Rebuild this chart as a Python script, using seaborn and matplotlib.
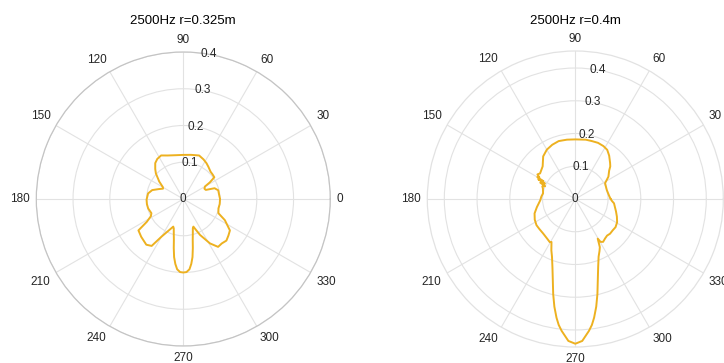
import numpy as np
import matplotlib
matplotlib.use("Agg")
import matplotlib.pyplot as plt
import seaborn as sns

# Directivity at 2500 Hz, measured at two radii (angle in degrees, magnitude)
near_theta = [0, 8, 14, 19, 22, 26, 30, 32, 35, 40, 45, 52, 57, 63, 70, 80, 90,
              100, 110, 117, 123, 128, 133, 137, 144, 150, 153, 158, 164, 171,
              181, 188, 195, 204, 208, 212, 215, 222, 231, 236, 240, 245, 250,
              252, 255, 257, 259, 261, 263, 265, 267.5, 270, 272.5, 275, 277,
              279, 281, 283, 285, 288, 290, 295, 301, 306, 311, 316, 321, 326,
              333, 338, 345, 352, 360]
near_r = [0.100, 0.098, 0.098, 0.090, 0.066, 0.064, 0.068, 0.085, 0.103, 0.104,
          0.105, 0.111, 0.116, 0.121, 0.126, 0.122, 0.120, 0.121, 0.126, 0.133,
          0.130, 0.124, 0.112, 0.102, 0.081, 0.064, 0.062, 0.072, 0.088, 0.097,
          0.100, 0.100, 0.099, 0.095, 0.100, 0.117, 0.149, 0.154, 0.160, 0.154,
          0.118, 0.095, 0.080, 0.084, 0.100, 0.114, 0.136, 0.160, 0.178, 0.192,
          0.199, 0.200, 0.199, 0.192, 0.178, 0.160, 0.136, 0.114, 0.100, 0.084,
          0.080, 0.108, 0.141, 0.161, 0.160, 0.163, 0.158, 0.153, 0.127, 0.103,
          0.099, 0.100, 0.100]

far_theta = [0, 5, 16, 28, 34, 40, 43, 46, 52, 57, 62, 68, 74, 80, 90, 98, 106,
             113, 120, 127, 135, 140, 144, 147, 149, 150, 151, 152, 153, 155,
             157, 159, 162, 170, 176, 182, 188, 192, 199.5, 207, 214, 220, 227,
             234, 239.4, 241, 245, 248, 251.5, 254, 256.9, 259, 261, 262.5,
             264.1, 267.2, 270, 272.8, 275.9, 277.5, 279, 281, 283.1, 286,
             288.5, 292, 295, 297, 299.5, 300.5, 303, 307, 311, 315, 320, 325,
             331, 337, 343, 348, 353.6, 357, 360]
far_r = [0.108, 0.104, 0.100, 0.103, 0.122, 0.135, 0.146, 0.153, 0.168, 0.179,
         0.183, 0.185, 0.184, 0.184, 0.182, 0.183, 0.184, 0.180, 0.174, 0.163,
         0.141, 0.136, 0.133, 0.138, 0.128, 0.134, 0.112, 0.128, 0.104, 0.118,
         0.100, 0.108, 0.104, 0.100, 0.104, 0.107, 0.114, 0.120, 0.132, 0.139,
         0.143, 0.143, 0.144, 0.148, 0.153, 0.150, 0.173, 0.190, 0.220, 0.250,
         0.298, 0.335, 0.367, 0.388, 0.405, 0.434, 0.442, 0.434, 0.405, 0.388,
         0.367, 0.335, 0.298, 0.250, 0.220, 0.190, 0.175, 0.165, 0.139, 0.152,
         0.156, 0.151, 0.148, 0.150, 0.149, 0.150, 0.146, 0.138, 0.130, 0.124,
         0.119, 0.112, 0.108]

titles = ["2500Hz r=0.325m", "2500Hz r=0.4m"]
r_limits = [0.4, 0.452]
r_ticks = [0, 0.1, 0.2, 0.3, 0.4]
r_tick_labels = ["0", "0.1", "0.2", "0.3", "0.4"]
theta_ticks = list(range(0, 360, 30))
theta_tick_labels = [str(t) for t in theta_ticks]

LINE_COLOR = "#EDB120"
TEXT_COLOR = "#262626"
GRID_COLOR = "#e2e2e2"
EDGE_COLORS = ["#c4c4c4", "#e2e2e2"]

sns.set_theme(style="white")
plt.rcParams["font.family"] = ["Liberation Sans", "DejaVu Sans"]

fig = plt.figure(figsize=(7.24, 3.63), dpi=100)
W, H = 724, 363
centers = [(183.3, 199.0), (575.3, 199.0)]
radii = [147.0, 148.0]

series = [(near_theta, near_r), (far_theta, far_r)]


def side_align(c, s):
    ha = "left" if c > 0.01 else ("right" if c < -0.01 else "center")
    va = "bottom" if s > 0.01 else ("top" if s < -0.01 else "center")
    return ha, va


for i, ((th, rr), (cx, cy), rad) in enumerate(zip(series, centers, radii)):
    ax = fig.add_axes([(cx - rad) / W, (H - cy - rad) / H, 2 * rad / W, 2 * rad / H],
                      projection="polar")
    ax.set_facecolor("white")
    sns.lineplot(x=np.deg2rad(th), y=rr, ax=ax, sort=False, estimator=None,
                 color=LINE_COLOR, linewidth=1.4)
    ax.set_ylim(0, r_limits[i])
    ax.set_yticks([t for t in r_ticks if t > 0])
    ax.set_yticklabels([])
    ax.set_thetagrids(theta_ticks, [""] * len(theta_ticks))
    ax.grid(True, color=GRID_COLOR, linewidth=0.8)
    ax.spines["polar"].set_color(EDGE_COLORS[i])
    ax.spines["polar"].set_linewidth(0.9)
    ax.set_xlabel("")
    ax.set_ylabel("")

    # angle labels just outside the rim, aligned away from the centre
    for t, lab in zip(theta_ticks, theta_tick_labels):
        c, s = np.cos(np.deg2rad(t)), np.sin(np.deg2rad(t))
        ha, va = side_align(c, s)
        ax.annotate(lab, xy=(np.deg2rad(t), r_limits[i]), xycoords="data",
                    xytext=(4.6 * c, 4.6 * s), textcoords="offset points",
                    ha=ha, va=va, fontsize=8.5, color=TEXT_COLOR,
                    annotation_clip=False)

    # radial labels sit along the 80 degree direction
    for t, lab in zip(r_ticks, r_tick_labels):
        ax.text(np.deg2rad(80), t, lab, ha="center", va="center",
                fontsize=8.5, color=TEXT_COLOR, zorder=5)
    fig.text(cx / W, 1 - 20.5 / H, titles[i], ha="center", va="center",
             fontsize=9.5, color="black")

fig.savefig("out.png", dpi=100)
